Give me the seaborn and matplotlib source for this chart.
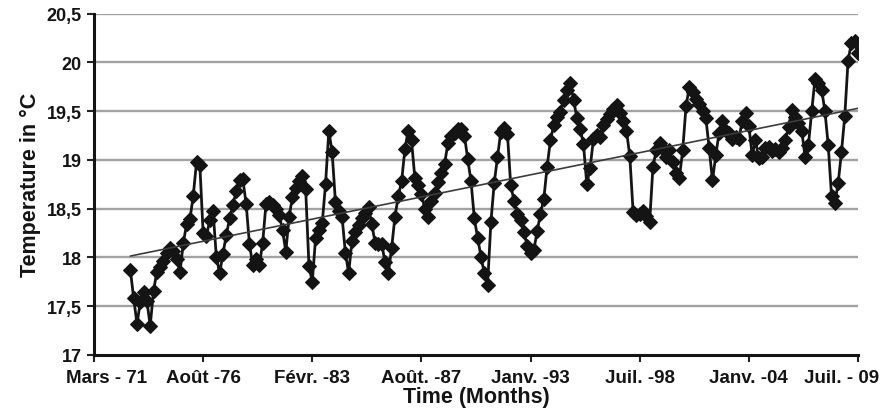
import numpy as np
import pandas as pd
import matplotlib
matplotlib.use("Agg")
import matplotlib.pyplot as plt
import matplotlib.transforms as mtransforms
import seaborn as sns

# Running-mean temperature, one value every two months (°C)
temps = [
    17.87, 17.58, 17.32, 17.54, 17.65, 17.55, 17.30, 17.66, 17.85, 17.90,
    17.96, 18.05, 18.10, 18.07, 17.98, 17.85, 18.15, 18.34, 18.39, 18.63,
    18.98, 18.95, 18.25, 18.22, 18.38, 18.48, 18.00, 17.84, 18.04, 18.23,
    18.40, 18.54, 18.68, 18.79, 18.80, 18.55, 18.14, 17.92, 17.98, 17.92,
    18.15, 18.55, 18.57, 18.54, 18.50, 18.44, 18.28, 18.06, 18.42, 18.62,
    18.71, 18.78, 18.84, 18.70, 17.91, 17.75, 18.20, 18.28, 18.35, 18.75,
    19.30, 19.08, 18.57, 18.48, 18.42, 18.05, 17.84, 18.17, 18.26, 18.33,
    18.40, 18.46, 18.52, 18.34, 18.15, 18.14, 18.14, 17.95, 17.84, 18.10,
    18.42, 18.63, 18.78, 19.11, 19.30, 19.20, 18.82, 18.74, 18.65, 18.50,
    18.42, 18.58, 18.66, 18.77, 18.87, 18.96, 19.17, 19.25, 19.28, 19.32,
    19.32, 19.25, 19.01, 18.78, 18.40, 18.20, 18.01, 17.84, 17.72, 18.36,
    18.76, 19.03, 19.29, 19.33, 19.27, 18.74, 18.58, 18.45, 18.38, 18.26,
    18.12, 18.05, 18.08, 18.27, 18.45, 18.60, 18.93, 19.20, 19.36, 19.44,
    19.49, 19.62, 19.72, 19.79, 19.62, 19.43, 19.32, 19.16, 18.75, 18.92,
    19.21, 19.26, 19.24, 19.36, 19.42, 19.47, 19.52, 19.56, 19.48, 19.40,
    19.30, 19.04, 18.47, 18.44, 18.45, 18.48, 18.43, 18.36, 18.93, 19.10,
    19.17, 19.11, 19.03, 19.10, 18.98, 18.87, 18.82, 19.10, 19.55, 19.75,
    19.70, 19.63, 19.57, 19.50, 19.43, 19.12, 18.79, 19.05, 19.28, 19.40,
    19.30, 19.28, 19.22, 19.24, 19.22, 19.40, 19.48, 19.35, 19.05, 19.20,
    19.02, 19.03, 19.12, 19.13, 19.09, 19.11, 19.08, 19.12, 19.20, 19.34,
    19.51, 19.44, 19.38, 19.30, 19.03, 19.15, 19.50, 19.83, 19.79, 19.72,
    19.50, 19.15, 18.63, 18.56, 18.76, 19.08, 19.45, 20.02, 20.20, 20.22,
    20.10,
]
first_month = 22          # months after March 1971
month_step = 2

tick_months = [0, 66, 132, 198, 264, 330, 396, 462]
tick_labels = ["Mars - 71", "Août -76", "Févr. -83", "Août. -87",
               "Janv. -93", "Juil. -98", "Janv. -04", "Juil. - 09"]
y_ticks = [17, 17.5, 18, 18.5, 19, 19.5, 20, 20.5]
y_tick_labels = ["17", "17,5", "18", "18,5", "19", "19,5", "20", "20,5"]

df = pd.DataFrame({
    "month": first_month + month_step * np.arange(len(temps)),
    "temp": temps,
})

sns.set_theme(style="white")
plt.rcParams["font.family"] = ["Liberation Sans", "DejaVu Sans"]
plt.rcParams["font.weight"] = "bold"

ink = "#141414"

fig = plt.figure(figsize=(8.96, 4.14), dpi=100)
ax = fig.add_axes([94 / 896, 1 - 356 / 414, (858 - 94) / 896, (356 - 14.7) / 414])

for y in y_ticks[1:]:
    ax.axhline(y, color="#a2a2a2", linewidth=1.7, zorder=0)

sns.lineplot(data=df, x="month", y="temp", ax=ax, color=ink,
             linewidth=2.0, marker="D", markersize=7.0,
             markeredgecolor=ink, markerfacecolor=ink, zorder=3)

sns.regplot(data=df, x="month", y="temp", ax=ax, scatter=False, ci=None,
            line_kws=dict(color="#3c3c3c", linewidth=1.2, zorder=4))

ax.set_xlim(tick_months[0], tick_months[-1])
ax.set_ylim(17, 20.5)
ax.set_xticks(tick_months)
ax.set_xticklabels(tick_labels, fontsize=13.5, fontweight="bold", color=ink)
ax.set_yticks(y_ticks)
ax.set_yticklabels(y_tick_labels, fontsize=13, fontweight="bold", color=ink)

ax.tick_params(axis="both", which="major", direction="out", length=5,
               width=1.5, color="#222222", left=True, bottom=True)
ax.tick_params(axis="x", pad=5)
ax.tick_params(axis="y", pad=4)

for side in ("top", "right"):
    ax.spines[side].set_visible(False)
for side in ("left", "bottom"):
    ax.spines[side].set_color(ink)
    ax.spines[side].set_linewidth(2.2)

# keep the end labels inside the plotted span
labels = ax.get_xticklabels()
labels[0].set_transform(labels[0].get_transform()
                        + mtransforms.ScaledTranslation(13 / 100, 0, fig.dpi_scale_trans))
labels[-1].set_transform(labels[-1].get_transform()
                         + mtransforms.ScaledTranslation(-16 / 100, 0, fig.dpi_scale_trans))

ax.set_xlabel("Time (Months)", fontsize=15.5, fontweight="bold", color=ink, labelpad=0)
ax.set_ylabel("Temperature in °C", fontsize=15.5, fontweight="bold", color=ink, labelpad=4)

fig.savefig("out.png", dpi=100, facecolor="white")
